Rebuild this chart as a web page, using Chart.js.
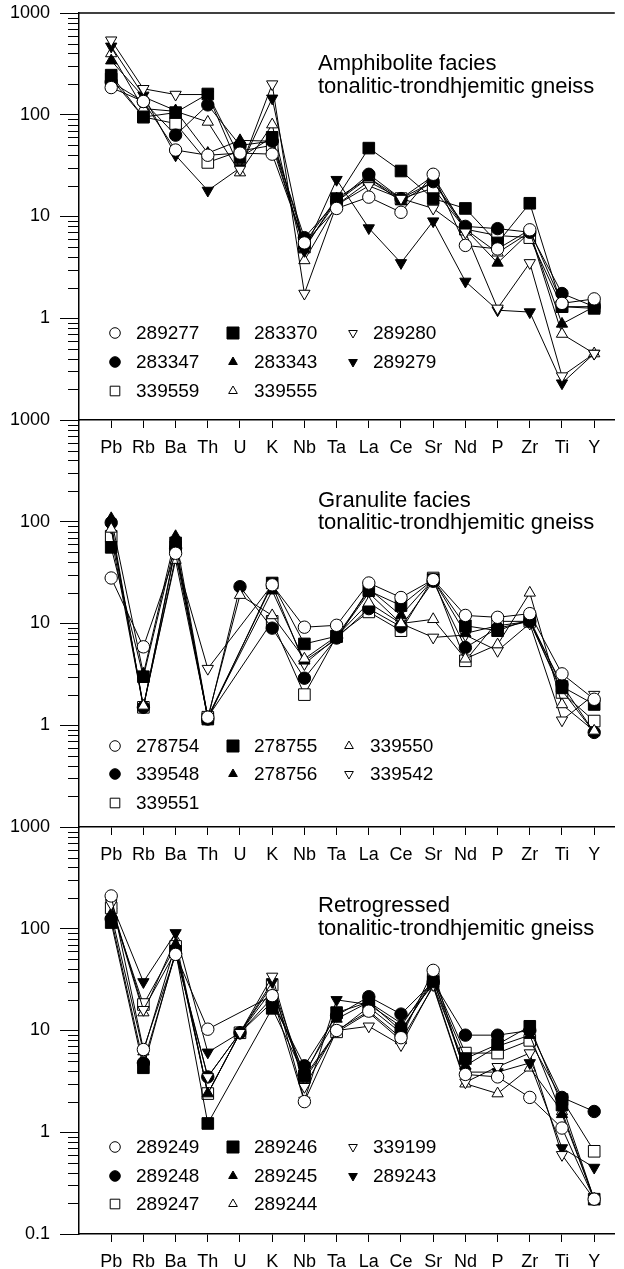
<!DOCTYPE html>
<html>
<head>
<meta charset="utf-8">
<script src="https://cdn.jsdelivr.net/npm/chart.js"></script>
<style>
  html, body { margin: 0; padding: 0; background: #fff; }
  #wrap { position: relative; width: 624px; height: 1269px; overflow: hidden; }
  canvas { position: absolute; left: 0; }
</style>
</head>
<body>
<div id="wrap">
  <canvas id="c1" width="624" height="460" style="top:0px"></canvas>
  <canvas id="c2" width="624" height="460" style="top:407px"></canvas>
  <canvas id="c3" width="624" height="455" style="top:814px"></canvas>
</div>
<script>
// spider diagram values (sample / primitive mantle)
const elements = ['Pb', 'Rb', 'Ba', 'Th', 'U', 'K', 'Nb', 'Ta', 'La', 'Ce', 'Sr', 'Nd', 'P', 'Zr', 'Ti', 'Y'];
const yTicks = [0.1, 1, 10, 100, 1000];
const yTickLabels = ['0.1', '1', '10', '100', '1000'];

// Amphibolite facies
const amphNames = ['289277', '283370', '289280', '283347', '283343', '289279', '339559', '339555'];
const a289277 = [185, 135, 45, 40, 42, 41, 5.5, 12, 15.5, 11, 26, 5.2, 4.8, 7.4, 1.4, 1.55];
const a283370 = [245, 95, 105, 160, 38, 60, 5.5, 15, 47, 28, 15, 12, 5.5, 13.5, 1.3, 1.25];
const a289280 = [540, 180, 158, 158, 29, 200, 1.75, 13, 20, 15, 12, 7, 1.25, 3.5, 0.27, 0.45];
const a283347 = [210, 135, 63, 125, 50, 55, 6.2, 14, 26, 15, 22, 8, 7.6, 7, 1.75, 1.3];
const a283343 = [340, 150, 110, 42, 56, 55, 4.8, 15, 24, 14, 22, 7.5, 3.5, 7, 0.88, 1.3];
const a289279 = [470, 155, 40, 18, 30, 145, 4.6, 23, 7.7, 3.5, 9, 2.3, 1.2, 1.15, 0.23, 0.45];
const a339559 = [225, 95, 82, 34, 44, 50, 5, 14, 24, 15, 19, 7.5, 6.5, 6.2, 1.3, 1.3];
const a339555 = [400, 115, 108, 85, 27, 80, 3.7, 13, 22, 15, 25, 7.5, 4.4, 7, 0.7, 0.45];

// Granulite facies
const granNames = ['278754', '278755', '339550', '339548', '278756', '339542', '339551'];
const g278754 = [28, 5.9, 49, 1.2, null, 24, 9.2, 9.6, 25, 18, 27, 12, 11.5, 12.5, 3.2, 1.8];
const g278755 = [56, 3.0, 62, 1.15, null, 25, 6.3, 7.5, 21, 15, 27, 9.5, 8.5, 11, 2.4, 1.6];
const g339550 = [85, 1.55, 42, 1.2, 19, 12, 4.5, 7.5, 16, 10, 11, 4.5, 6.2, 20, 1.6, 0.88];
const g339548 = [98, 1.5, 55, 1.15, 23, 9, 2.9, 7.2, 14, 9.3, 26, 5.8, 9, 10.5, 2.5, 0.85];
const g278756 = [108, 3.2, 72, 1.2, null, 21, 4.3, 7, 22, 12, 27, 8, 9.5, 10.5, 2.2, 0.85];
const g339542 = [88, 1.5, 45, 3.6, null, 24, 4, 7.3, 20, 10, 7.3, 7.7, 5.4, 10, 1.12, 2.0];
const g339551 = [72, 1.5, 57, 1.2, null, 10.5, 2.0, 7.5, 13, 8.5, 28, 4.3, 10.5, 10.5, 2.1, 1.1];

// Retrogressed
const retroNames = ['289249', '289246', '339199', '289248', '289245', '289243', '289247', '289244'];
const r289249 = [210, 6.5, 56, 10.3, null, 22, 2.0, 10, 15.5, 8.5, 39, 3.7, 3.5, 2.2, 1.1, 0.22];
const r289246 = [115, 4.3, 60, 1.22, null, 16.5, 3.6, 15, 19, 10, 30, 5.3, 7.3, 11, 1.85, 0.22];
const r339199 = [175, 16, 60, 3.5, 9.5, 34, 2.8, 10, 11, 7.2, 28, 3.1, 4.4, 6, 0.6, 0.22];
const r289248 = [125, 4.8, 57, 3.5, 9.5, 19, 4.5, 14, 21.5, 14.5, 30, 9, 9, 10, 2.2, 1.6];
const r289245 = [140, 6.2, 70, 2.4, 9.5, 21, 3.8, 13, 19, 11.8, 28, 4.5, 7, 9, 1.5, 0.22];
const r289243 = [180, 30, 91, 6.1, 9.5, 30, 2.05, 20, 18, 11, 32, 3.9, 3.9, 4.8, 0.7, 0.45];
const r289247 = [160, 18, 67, 2.4, 9.5, 28, 3.5, 9.7, 17, 9.5, 32, 6, 6, 8, 2.1, 0.65];
const r289244 = [170, 15, 78, 2.4, 9.5, 25, 3.3, 9.6, 15, 8, 27, 3, 2.4, 4.3, 1.6, 0.22];

const FONT = '"Liberation Sans", Arial, Helvetica, sans-serif';

// marker look: style, filled?, radius in the plot
const MARK = {
  circleOpen: { style: 'circle', fill: false, r: 6.2 },
  circleFill: { style: 'circle', fill: true, r: 6.2 },
  rectOpen:   { style: 'rect', fill: false, r: 8.2 },
  rectFill:   { style: 'rect', fill: true, r: 8.2 },
  triOpen:    { style: 'triangle', fill: false, r: 6.5 },
  triFill:    { style: 'triangle', fill: true, r: 6.5 },
  invOpen:    { style: 'triangle', fill: false, r: 6.5, rot: 180 },
  invFill:    { style: 'triangle', fill: true, r: 6.5, rot: 180 }
};

function makeDataset(name, values, markKey) {
  const m = MARK[markKey];
  return {
    label: name,
    data: values.map((v, i) => ({ x: i, y: v })),
    borderColor: '#000',
    borderWidth: 1,
    pointStyle: m.style,
    pointRotation: m.rot || 0,
    pointRadius: m.r,
    pointBorderWidth: 1,
    pointBackgroundColor: m.fill ? '#000' : '#fff',
    pointBorderColor: '#000',
    spanGaps: true,
    tension: 0,
    fill: false,
    clip: false
  };
}

// legend marker, a bit smaller than the plot ones
function drawLegendMark(ctx, markKey, x, y) {
  const m = MARK[markKey];
  ctx.beginPath();
  if (m.style === 'circle') {
    ctx.arc(x, y, 5.3, 0, Math.PI * 2);
  } else if (m.style === 'rect') {
    const h = m.fill ? 6 : 4.8;
    ctx.rect(x - h, y - h, 2 * h, 2 * h);
  } else {
    const r = 5;
    const dir = m.rot ? -1 : 1;
    ctx.moveTo(x, y - dir * r);
    ctx.lineTo(x + r * 0.866, y + dir * r * 0.5);
    ctx.lineTo(x - r * 0.866, y + dir * r * 0.5);
    ctx.closePath();
  }
  ctx.fillStyle = m.fill ? '#000' : '#fff';
  ctx.fill();
  ctx.strokeStyle = '#000';
  ctx.lineWidth = 1;
  ctx.stroke();
}

function decoPlugin(cfg) {
  return {
    id: 'deco',
    afterDraw(chart) {
      const ctx = chart.ctx;
      const area = chart.chartArea;
      const ys = chart.scales.y;
      ctx.save();
      ctx.strokeStyle = '#000';
      ctx.lineWidth = 1;
      // minor log ticks
      ctx.beginPath();
      [0.1, 1, 10, 100].forEach(d => {
        for (let k = 2; k <= 9; k++) {
          const py = Math.round(ys.getPixelForValue(k * d)) + 0.5;
          ctx.moveTo(area.left - 11, py);
          ctx.lineTo(area.left, py);
        }
      });
      ctx.stroke();
      if (cfg.topBorder) {
        ctx.beginPath();
        ctx.lineWidth = 1.5;
        ctx.moveTo(area.left, area.top);
        ctx.lineTo(area.right, area.top);
        ctx.stroke();
      }
      // title
      ctx.fillStyle = '#000';
      ctx.font = '22px ' + FONT;
      ctx.textAlign = 'left';
      ctx.textBaseline = 'alphabetic';
      cfg.title.forEach((t, i) => ctx.fillText(t, 318, cfg.titleY[i]));
      // legend, three columns
      const markX = [115, 233, cfg.col3Mark];
      const textX = [136, 254, cfg.col3Text];
      ctx.font = '19px ' + FONT;
      ctx.textBaseline = 'middle';
      cfg.names.forEach((n, i) => {
        const col = i % 3, row = Math.floor(i / 3);
        const y = cfg.legendY[row];
        drawLegendMark(ctx, cfg.marks[i], markX[col], y);
        ctx.fillStyle = '#000';
        ctx.fillText(n, textX[col], y + 1);
      });
      ctx.restore();
    }
  };
}

function makePanel(id, names, series, marks, cfg) {
  const canvas = document.getElementById(id);
  const xHeight = canvas.height - 13 - 407;
  return new Chart(canvas.getContext('2d'), {
    type: 'line',
    data: { datasets: series.map((s, i) => makeDataset(names[i], s, marks[i])) },
    options: {
      responsive: false,
      animation: false,
      layout: { padding: { top: 13, left: 0, right: 0, bottom: 0 } },
      plugins: { legend: { display: false }, tooltip: { enabled: false }, title: { display: false } },
      scales: {
        x: {
          type: 'linear',
          min: -1,
          max: 15.64,
          afterBuildTicks: s => { s.ticks = elements.map((e, i) => ({ value: i })); },
          afterFit: s => { s.height = xHeight; s.paddingLeft = 0; s.paddingRight = 0; },
          ticks: {
            autoSkip: false,
            maxRotation: 0,
            padding: 9,
            color: '#000',
            font: { family: FONT, size: 18 },
            callback: v => elements[v]
          },
          grid: { drawOnChartArea: false, drawTicks: true, tickLength: 8, color: '#000', lineWidth: 1 },
          border: { color: '#000', width: 1.5 }
        },
        y: {
          type: 'logarithmic',
          min: 0.1,
          max: 1000,
          afterBuildTicks: s => { s.ticks = yTicks.map(v => ({ value: v, major: true })); },
          afterFit: s => { s.width = 79; s.paddingTop = 0; s.paddingBottom = 0; },
          ticks: {
            padding: 10,
            color: '#000',
            font: { family: FONT, size: 18 },
            callback: v => {
              const i = yTicks.indexOf(v);
              if (i === 0 && !cfg.showBottom) return '';
              return yTickLabels[i];
            }
          },
          grid: { drawOnChartArea: false, drawTicks: true, tickLength: 19, color: '#000', lineWidth: 1 },
          border: { color: '#000', width: 1.5 }
        }
      }
    },
    plugins: [decoPlugin(Object.assign({ names: names, marks: marks }, cfg))]
  });
}

const marks8 = ['circleOpen', 'rectFill', 'invOpen', 'circleFill', 'triFill', 'invFill', 'rectOpen', 'triOpen'];
const marks7 = ['circleOpen', 'rectFill', 'triOpen', 'circleFill', 'triFill', 'invOpen', 'rectOpen'];

makePanel('c1', amphNames,
  [a289277, a283370, a289280, a283347, a283343, a289279, a339559, a339555], marks8,
  { topBorder: true, showBottom: false,
    title: ['Amphibolite facies', 'tonalitic-trondhjemitic gneiss'], titleY: [70, 93],
    legendY: [333, 362, 391], col3Mark: 353, col3Text: 373 });

makePanel('c2', granNames,
  [g278754, g278755, g339550, g339548, g278756, g339542, g339551], marks7,
  { topBorder: false, showBottom: false,
    title: ['Granulite facies', 'tonalitic-trondhjemitic gneiss'], titleY: [100, 122],
    legendY: [339, 367, 396], col3Mark: 349, col3Text: 370 });

makePanel('c3', retroNames,
  [r289249, r289246, r339199, r289248, r289245, r289243, r289247, r289244], marks8,
  { topBorder: false, showBottom: true,
    title: ['Retrogressed', 'tonalitic-trondhjemitic gneiss'], titleY: [98, 121],
    legendY: [333, 362, 390], col3Mark: 353, col3Text: 373 });
</script>
</body>
</html>
